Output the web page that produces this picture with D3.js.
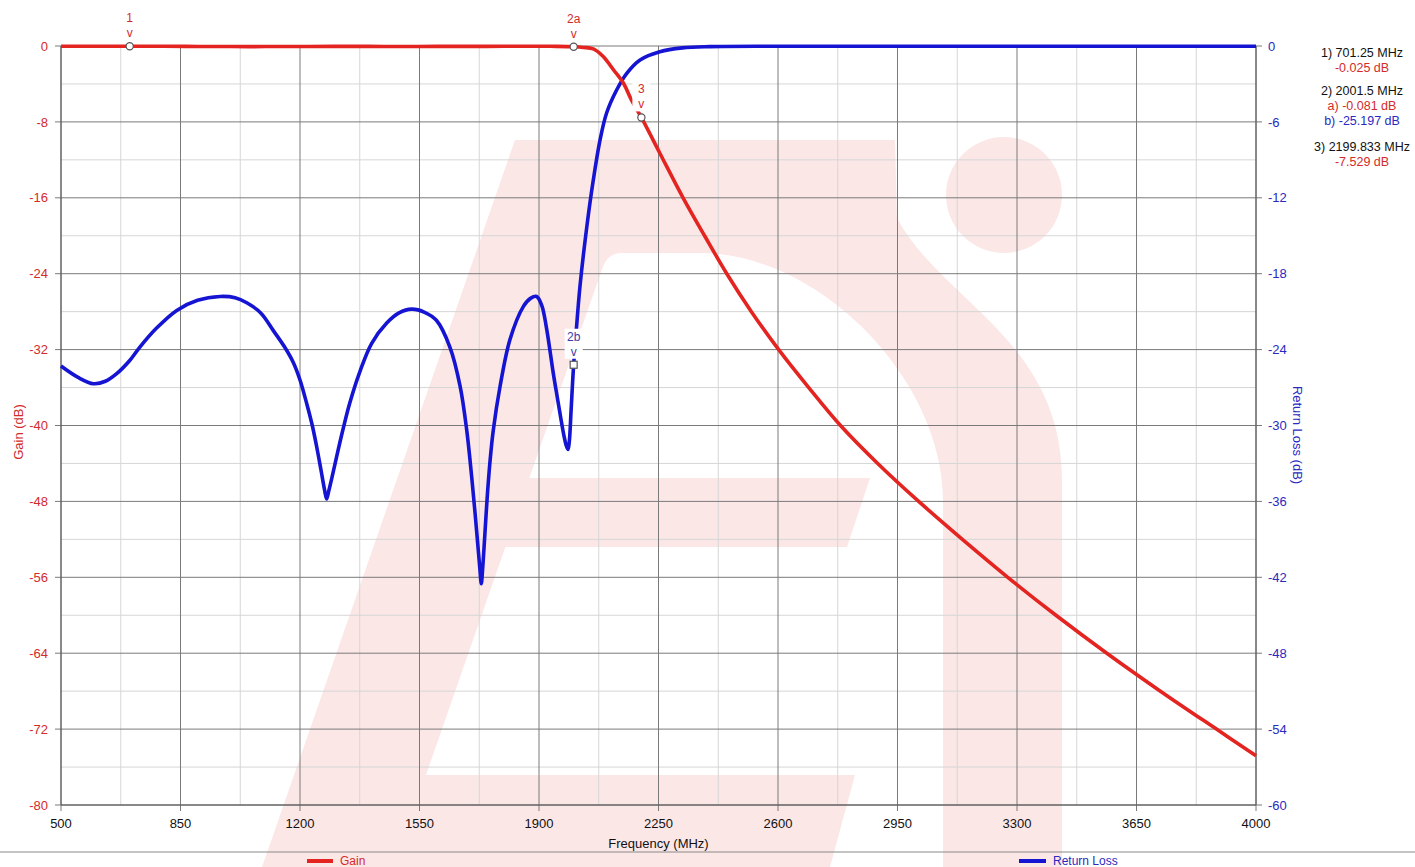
<!DOCTYPE html>
<html>
<head>
<meta charset="utf-8">
<script src="https://cdn.jsdelivr.net/npm/d3@7"></script>
<style>
  html, body { margin: 0; padding: 0; background: #fff; }
  svg { display: block; }
  text { font-family: "Liberation Sans", Arial, sans-serif; }
</style>
</head>
<body>
<svg id="chart" width="1415" height="867"></svg>
<script>
// ---------- DATA ----------
const freqTicks = [500, 850, 1200, 1550, 1900, 2250, 2600, 2950, 3300, 3650, 4000];
const gainTicks = [0, -8, -16, -24, -32, -40, -48, -56, -64, -72, -80];
const rlTicks = [0, -6, -12, -18, -24, -30, -36, -42, -48, -54, -60];

// Gain (dB) vs frequency (MHz)
const gainFreq = [500, 600, 701.25, 800, 900, 1000, 1100, 1200, 1300, 1400, 1500, 1600, 1700, 1800, 1900, 1950, 2001.5, 2030, 2059, 2088, 2118, 2147, 2171, 2199.833, 2254, 2322, 2385, 2450, 2522, 2602, 2690, 2783, 2892, 3012, 3140, 3273, 3414, 3563, 3720, 3884, 4000];
const gainDb   = [-0.02, -0.02, -0.025, -0.03, -0.05, -0.06, -0.06, -0.05, -0.04, -0.04, -0.05, -0.04, -0.04, -0.03, -0.03, -0.04, -0.081, -0.15, -0.3, -1.1, -2.5, -3.9, -5.7, -7.529, -11.3, -16, -20, -24, -28, -32, -36, -40, -44, -48, -52, -56, -60, -64, -68, -72, -74.8];

// Return loss (dB) vs frequency (MHz)
const rlFreq = [500, 550, 595, 630, 663, 700, 731, 780, 839, 900, 966, 1010, 1044, 1085, 1122, 1155, 1180, 1200, 1220, 1236, 1249, 1262, 1272, 1278, 1284, 1292, 1307, 1326, 1346, 1376, 1410, 1454, 1490, 1527, 1565, 1600, 1639, 1669, 1688, 1703, 1713, 1721, 1727, 1731, 1735, 1741, 1748, 1756, 1766, 1786, 1815, 1854, 1875, 1893, 1908, 1922, 1942, 1955, 1965, 1973, 1980, 1985, 1989, 1994, 2001.5, 2010, 2020, 2040, 2059, 2079, 2098, 2127, 2157, 2196, 2254, 2320, 2400, 2600, 3000, 4000];
const rlDb   = [-25.3, -26.2, -26.7, -26.5, -25.9, -24.9, -23.8, -22.3, -20.9, -20.1, -19.8, -19.9, -20.3, -21.1, -22.5, -23.8, -25.0, -26.4, -28.3, -30.0, -31.7, -33.6, -35.1, -35.8, -35.2, -34.3, -32.5, -30.3, -28.2, -25.7, -23.5, -21.9, -21.1, -20.8, -21.05, -21.7, -23.8, -26.9, -30.3, -34.1, -37.0, -39.5, -41.4, -42.5, -41.3, -38.8, -35.8, -33.0, -30.4, -26.9, -23.2, -20.6, -19.95, -19.8, -20.5, -22.3, -25.9, -28.0, -29.6, -30.8, -31.6, -31.9, -31.2, -28.8, -25.197, -22.2, -19.0, -14.3, -10.6, -7.4, -5.3, -3.5, -2.16, -1.1, -0.45, -0.15, -0.05, -0.02, -0.02, -0.02];

// Markers
const markerIds    = ["1", "2a", "3"];
const markerFreq   = [701.25, 2001.5, 2199.833];
const markerGain   = [-0.025, -0.081, -7.529];
const marker2bFreq = 2001.5;
const marker2bRl   = -25.197;

// Marker readout lines: [text, kind]
const readoutText = ["1) 701.25 MHz", "-0.025 dB", "2) 2001.5 MHz", "a) -0.081 dB", "b) -25.197 dB", "3) 2199.833 MHz", "-7.529 dB"];
const readoutKind = ["k", "r", "k", "r", "b", "k", "r"];

// ---------- LAYOUT ----------
const RED = "#e42420", BLUE = "#1414d2", LBL_RED = "#d42a2a", LBL_BLUE = "#2a2ac0";
const svg = d3.select("#chart");
const L = 61, R = 1256, T = 46, B = 805;

const x = d3.scaleLinear().domain([500, 4000]).range([L, R]);
const yG = d3.scaleLinear().domain([-80, 0]).range([B, T]);
const yR = d3.scaleLinear().domain([-60, 0]).range([B, T]);

// ---------- WATERMARK (decorative logo) ----------
const wm = svg.append("g").attr("fill", "#fce7e7");
const slope = 0.348, sw = 132;
const xl = y => 515 - (y - 140) * slope;
wm.append("path").attr("d",
  `M${xl(867)},867 L515,140 L895,140 L897,218 C940,300 1062,340 1062,480 L1062,867 L943,867 L943,500 C943,380 820,253 700,253 L${xl(253)+sw+14},253 Q${xl(253)+sw},253 ${xl(268)+sw},268 L${xl(867)+sw},867 Z`);
wm.append("path").attr("d",
  `M${xl(478)+sw-2},478 L870,478 L847,547 L${xl(547)+sw-2},547 Z`);
wm.append("path").attr("d",
  `M${xl(775)+sw-2},775 L855,775 L830,867 L${xl(867)+sw-2},867 Z`);
wm.append("circle").attr("cx", 1004).attr("cy", 195).attr("r", 58);

// ---------- GRID ----------
const grid = svg.append("g");
const minorX = d3.range(500, 4001, 175).filter(v => !freqTicks.includes(v));
const minorY = d3.range(-80, 1, 4).filter(v => !gainTicks.includes(v));
grid.selectAll(".mx").data(minorX).join("line")
  .attr("x1", d => x(d)).attr("x2", d => x(d)).attr("y1", T).attr("y2", B)
  .attr("stroke", "#d6d6d6").attr("stroke-width", 1);
grid.selectAll(".my").data(minorY).join("line")
  .attr("x1", L).attr("x2", R).attr("y1", d => yG(d)).attr("y2", d => yG(d))
  .attr("stroke", "#d6d6d6").attr("stroke-width", 1);
grid.selectAll(".Mx").data(freqTicks).join("line")
  .attr("x1", d => x(d)).attr("x2", d => x(d)).attr("y1", T).attr("y2", B + 6)
  .attr("stroke", "#7a7a7a").attr("stroke-width", 1);
grid.selectAll(".My").data(gainTicks).join("line")
  .attr("x1", L - 6).attr("x2", R).attr("y1", d => yG(d)).attr("y2", d => yG(d))
  .attr("stroke", "#7a7a7a").attr("stroke-width", 1);
grid.selectAll(".Myr").data(rlTicks).join("line")
  .attr("x1", R).attr("x2", R + 6).attr("y1", d => yR(d)).attr("y2", d => yR(d))
  .attr("stroke", "#7a7a7a").attr("stroke-width", 1);
grid.append("line").attr("x1", L).attr("x2", L).attr("y1", T).attr("y2", B).attr("stroke", "#555");
grid.append("line").attr("x1", R).attr("x2", R).attr("y1", T).attr("y2", B).attr("stroke", "#555");
grid.append("line").attr("x1", L).attr("x2", R).attr("y1", B).attr("y2", B).attr("stroke", "#555");

// ---------- AXES LABELS ----------
const axisG = svg.append("g").attr("font-size", 13);
axisG.selectAll(".gl").data(gainTicks).join("text")
  .attr("x", 48).attr("y", d => yG(d)).attr("dy", "0.36em")
  .attr("text-anchor", "end").attr("fill", LBL_RED).text(d => d);
axisG.selectAll(".rl").data(rlTicks).join("text")
  .attr("x", 1268).attr("y", d => yR(d)).attr("dy", "0.36em")
  .attr("text-anchor", "start").attr("fill", LBL_BLUE).text(d => d);
axisG.selectAll(".xl").data(freqTicks).join("text")
  .attr("x", d => x(d)).attr("y", 828)
  .attr("text-anchor", "middle").attr("fill", "#111").text(d => d);

svg.append("text").attr("x", (L + R) / 2).attr("y", 848).attr("text-anchor", "middle")
  .attr("font-size", 13).attr("fill", "#111").text("Frequency (MHz)");
svg.append("text").attr("transform", "translate(23,432) rotate(-90)").attr("text-anchor", "middle")
  .attr("font-size", 13).attr("fill", LBL_RED).text("Gain (dB)");
svg.append("text").attr("transform", "translate(1293,435) rotate(90)").attr("text-anchor", "middle")
  .attr("font-size", 13).attr("fill", LBL_BLUE).text("Return Loss (dB)");

// ---------- CURVES ----------
const gainData = gainFreq.map((f, i) => [f, gainDb[i]]);
const rlData = rlFreq.map((f, i) => [f, rlDb[i]]);
const lineG = d3.line().x(d => x(d[0])).y(d => yG(d[1])).curve(d3.curveCatmullRom.alpha(0.5));
const lineR = d3.line().x(d => x(d[0])).y(d => yR(d[1])).curve(d3.curveCatmullRom.alpha(0.5));

svg.append("path").datum(rlData).attr("d", lineR)
  .attr("fill", "none").attr("stroke", BLUE).attr("stroke-width", 3.6).attr("stroke-linejoin", "round");
svg.append("path").datum(gainData).attr("d", lineG)
  .attr("fill", "none").attr("stroke", RED).attr("stroke-width", 3.6).attr("stroke-linejoin", "round");

// ---------- MARKERS ----------
const mk = svg.append("g").attr("font-size", 12).attr("text-anchor", "middle");
function markerLabel(cx, cy, id, color) {
  mk.append("rect").attr("x", cx - 9).attr("y", cy - 36).attr("width", 18).attr("height", 30).attr("fill", "#fff");
  mk.append("text").attr("x", cx).attr("y", cy - 24).attr("fill", color).text(id);
  mk.append("text").attr("x", cx).attr("y", cy - 9).attr("fill", color).text("v");
}
markerIds.forEach((id, i) => {
  const cx = x(markerFreq[i]), cy = yG(markerGain[i]);
  markerLabel(cx, cy, id, LBL_RED);
  mk.append("circle").attr("cx", cx).attr("cy", cy).attr("r", 3.6)
    .attr("fill", "#fff").attr("stroke", "#555").attr("stroke-width", 1.2);
});
{
  const cx = x(marker2bFreq), cy = yR(marker2bRl);
  markerLabel(cx, cy, "2b", "#3b3ba6");
  mk.append("rect").attr("x", cx - 3.5).attr("y", cy - 3.5).attr("width", 7).attr("height", 7)
    .attr("fill", "#fff").attr("stroke", "#555").attr("stroke-width", 1.2);
}

// ---------- READOUT ----------
const readY = [57, 72, 95, 110, 125, 151, 166];
const kindColor = { k: "#111", r: LBL_RED, b: LBL_BLUE };
svg.append("g").attr("font-size", 12.5).attr("text-anchor", "middle")
  .selectAll("text").data(readoutText).join("text")
  .attr("x", 1362).attr("y", (d, i) => readY[i])
  .attr("fill", (d, i) => kindColor[readoutKind[i]]).text(d => d);

// ---------- LEGEND ----------
svg.append("line").attr("x1", 0).attr("x2", 1415).attr("y1", 852).attr("y2", 852)
  .attr("stroke", "#8a8a8a").attr("stroke-width", 1.2);
const leg = svg.append("g").attr("font-size", 12);
leg.append("line").attr("x1", 307).attr("x2", 333).attr("y1", 861).attr("y2", 861).attr("stroke", RED).attr("stroke-width", 4);
leg.append("text").attr("x", 340).attr("y", 865).attr("fill", LBL_RED).text("Gain");
leg.append("line").attr("x1", 1019).attr("x2", 1046).attr("y1", 861).attr("y2", 861).attr("stroke", BLUE).attr("stroke-width", 4);
leg.append("text").attr("x", 1053).attr("y", 865).attr("fill", LBL_BLUE).text("Return Loss");
</script>
</body>
</html>
